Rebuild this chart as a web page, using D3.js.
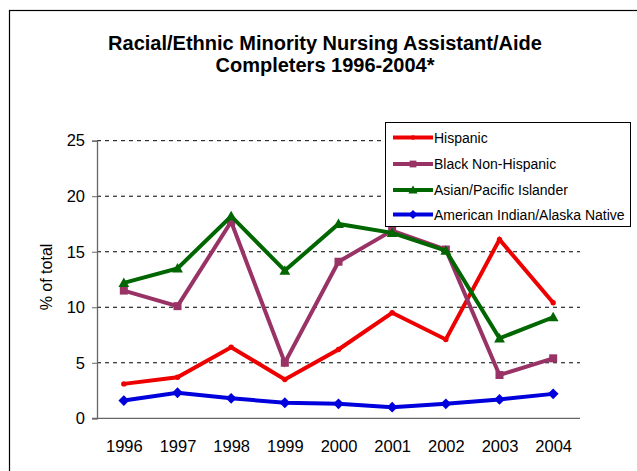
<!DOCTYPE html>
<html><head><meta charset="utf-8">
<script src="https://cdn.jsdelivr.net/npm/d3@7"></script>
<style>body{margin:0;background:#fff}svg{display:block}text{font-family:Arial,"Liberation Sans",sans-serif}</style>
</head><body>
<svg id="c" width="637" height="471"></svg>
<script>
const years = ["1996","1997","1998","1999","2000","2001","2002","2003","2004"];
const hispanic = [3.1, 3.7, 6.4, 3.5, 6.2, 9.5, 7.1, 16.1, 10.4];
const blackNonHispanic = [11.5, 10.1, 17.7, 5.0, 14.1, 16.9, 15.2, 3.9, 5.4];
const asianPacific = [12.2, 13.5, 18.2, 13.3, 17.5, 16.7, 15.1, 7.2, 9.1];
const amIndian = [1.6, 2.3, 1.8, 1.4, 1.3, 1.0, 1.3, 1.7, 2.2];
const yTicks = [0, 5, 10, 15, 20, 25];
const seriesNames = ["Hispanic","Black Non-Hispanic","Asian/Pacific Islander","American Indian/Alaska Native"];
const seriesColors = ["#ee0000","#993366","#006600","#0000dd"];
const seriesMarkers = ["circle","square","triangle","diamond"];
const seriesValues = [hispanic, blackNonHispanic, asianPacific, amIndian];

const FONT = "Arial, 'Liberation Sans', sans-serif";
const svg = d3.select("#c");
svg.append("rect").attr("x",9.5).attr("y",10.5).attr("width",700).attr("height",500)
  .attr("fill","none").attr("stroke","#000").attr("stroke-width",1.2);

const title = svg.append("text").attr("text-anchor","middle").attr("font-weight","bold").attr("font-size",20);
title.append("tspan").attr("x",325).attr("y",50).text("Racial/Ethnic Minority Nursing Assistant/Aide");
title.append("tspan").attr("x",325).attr("y",72).text("Completers 1996-2004*");

const x0 = 97, x1 = 580, yTop = 140.7, yBot = 418.3;
const x = d3.scalePoint().domain(years).range([x0, x1]).padding(0.5);
const y = d3.scaleLinear().domain([0, 25]).range([yBot, yTop]);

svg.append("g").selectAll("line").data(yTicks.filter(d=>d>0)).join("line")
  .attr("x1",x0).attr("x2",x1).attr("y1",d=>y(d)).attr("y2",d=>y(d))
  .attr("stroke","#000").attr("stroke-width",1).attr("stroke-dasharray","4,4");

const ya = svg.append("g").attr("transform",`translate(${x0},0)`)
  .call(d3.axisLeft(y).tickValues(yTicks).tickSize(5).tickPadding(7));
ya.select(".domain").attr("stroke","#666").attr("stroke-width",1.3);
ya.selectAll(".tick line").attr("stroke","#666");
ya.selectAll("text").attr("font-size",16.5).attr("fill","#000").attr("font-family",FONT);

const xa = svg.append("g").attr("transform",`translate(0,${yBot})`)
  .call(d3.axisBottom(x).tickSize(0).tickPadding(21.5));
xa.select(".domain").attr("stroke","#666").attr("stroke-width",1.3).attr("d",`M${x0-5},0H${x1}`);
xa.selectAll("text").attr("font-size",16.5).attr("fill","#000").attr("font-family",FONT);

svg.append("text").attr("transform","translate(52,277) rotate(-90)").attr("text-anchor","middle")
  .attr("font-size",16).text("% of total");

function marker(g, type, color, cx, cy, s) {
  if (type === "circle") g.append("circle").attr("cx",cx).attr("cy",cy).attr("r",s*0.45).attr("fill",color);
  else if (type === "square") g.append("rect").attr("x",cx-s/2).attr("y",cy-s/2).attr("width",s).attr("height",s).attr("fill",color);
  else if (type === "triangle") g.append("path").attr("d",`M${cx},${cy-s*0.6}L${cx+s*0.6},${cy+s*0.45}L${cx-s*0.6},${cy+s*0.45}Z`).attr("fill",color);
  else g.append("path").attr("d",`M${cx},${cy-s*0.6}L${cx+s*0.6},${cy}L${cx},${cy+s*0.6}L${cx-s*0.6},${cy}Z`).attr("fill",color);
}
const sizes = [6, 8, 9, 9];
const line = d3.line().x((d,i)=>x(years[i])).y(d=>y(d));
seriesValues.forEach((vals, k) => {
  const g = svg.append("g");
  g.append("path").datum(vals).attr("d",line).attr("fill","none")
    .attr("stroke",seriesColors[k]).attr("stroke-width",4).attr("stroke-linejoin","miter");
  vals.forEach((v,i)=>marker(g, seriesMarkers[k], seriesColors[k], x(years[i]), y(v), sizes[k]));
});

const lg = svg.append("g");
lg.append("rect").attr("x",385.5).attr("y",122.5).attr("width",245).attr("height",104)
  .attr("fill","#fff").attr("stroke","#000").attr("stroke-width",1);
const rowY = [137.5, 164, 190, 214.5];
seriesNames.forEach((n,k)=>{
  lg.append("line").attr("x1",393).attr("x2",433).attr("y1",rowY[k]).attr("y2",rowY[k])
    .attr("stroke",seriesColors[k]).attr("stroke-width",4);
  marker(lg, seriesMarkers[k], seriesColors[k], 413, rowY[k], sizes[k]*0.85);
  lg.append("text").attr("x",434).attr("y",rowY[k]+5).attr("font-size",14).text(n);
});
</script>
</body></html>
